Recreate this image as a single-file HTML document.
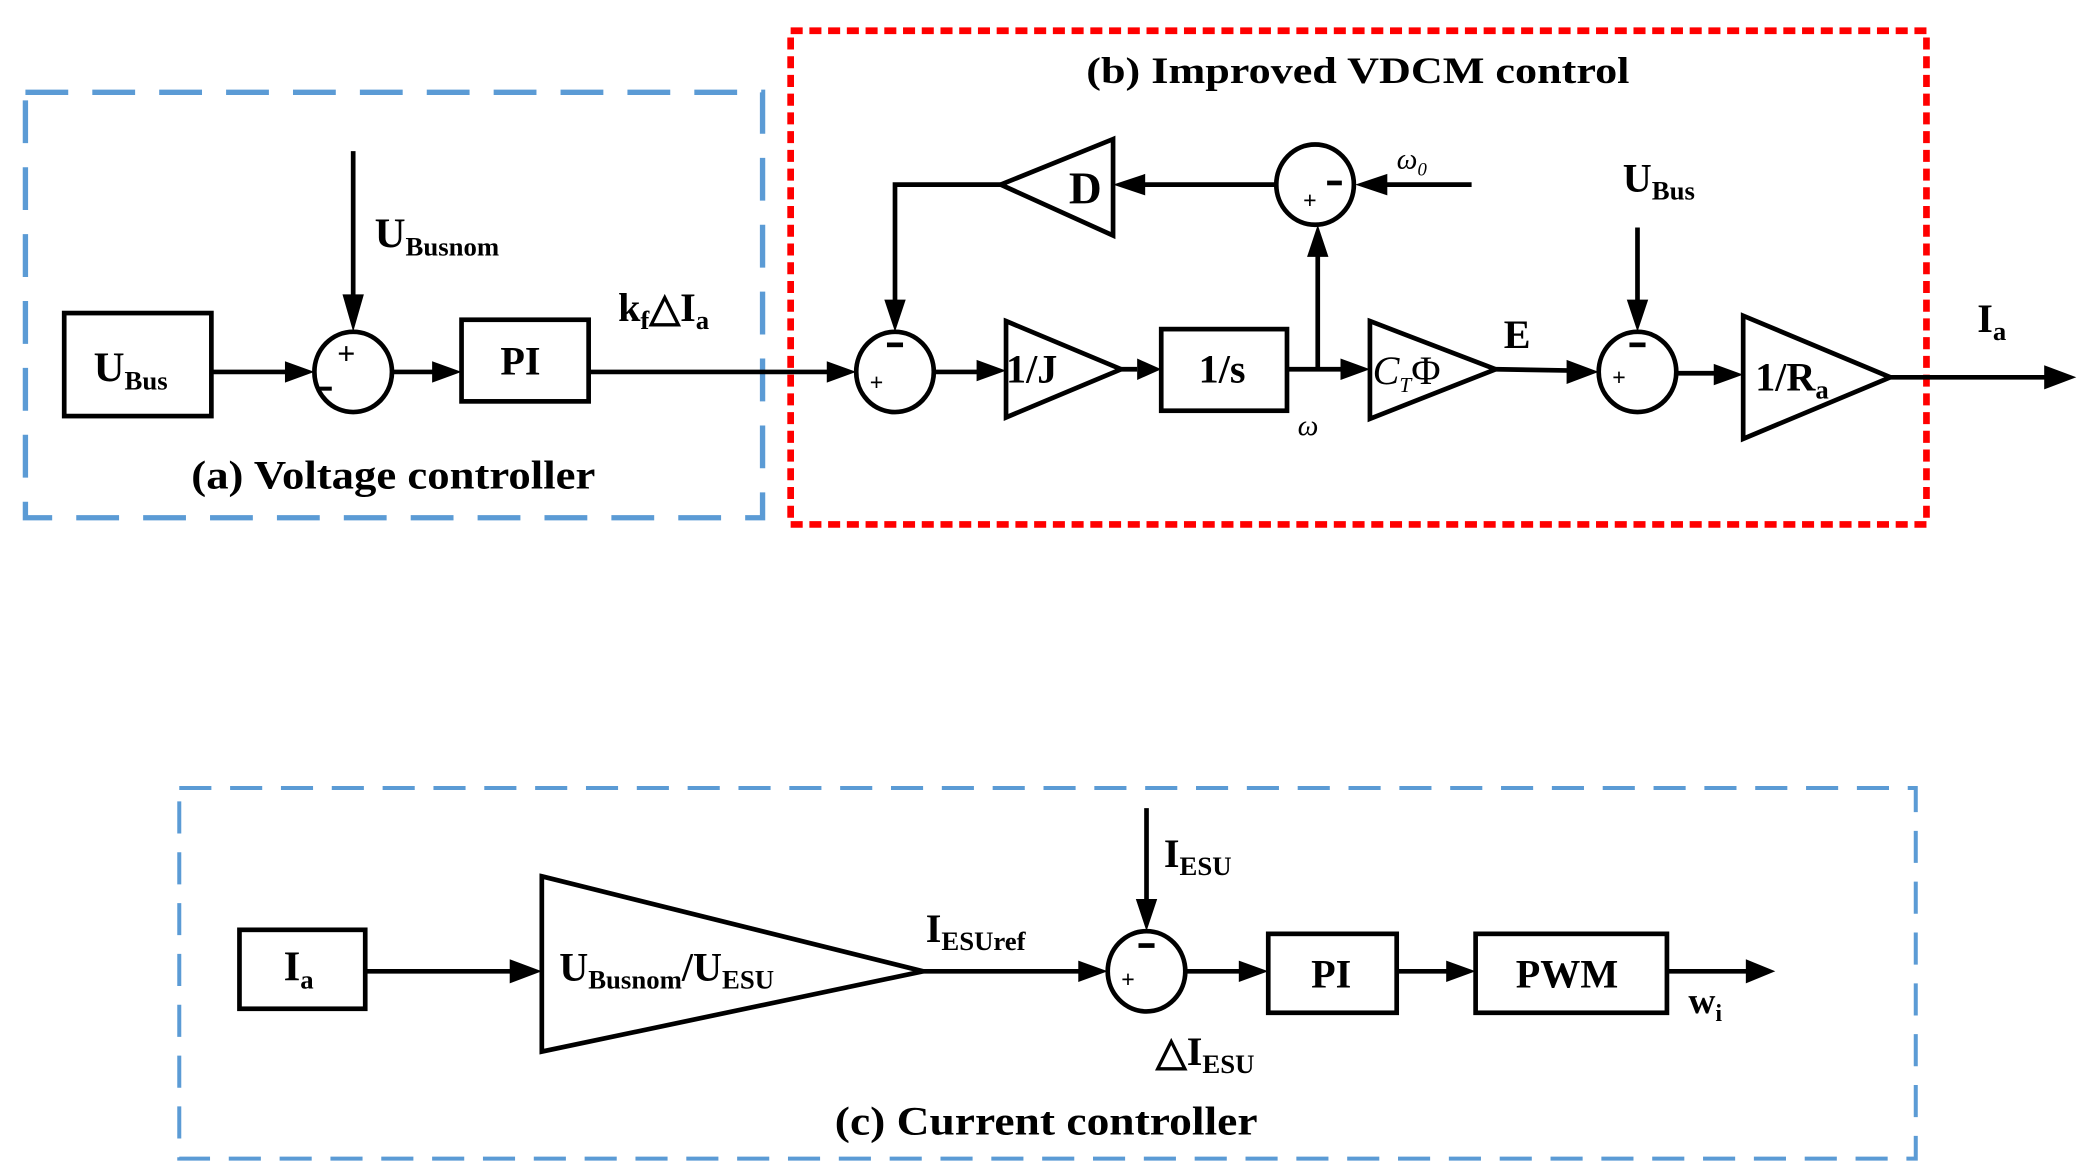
<!DOCTYPE html>
<html><head><meta charset="utf-8"><style>
html,body{margin:0;padding:0;background:#fff;}
svg{display:block;}
text{font-family:"Liberation Serif",serif;font-weight:bold;fill:#000;}
.it{font-style:italic;font-weight:normal;}
</style></head><body>
<svg width="2087" height="1176" viewBox="0 0 1560 879" preserveAspectRatio="none" xmlns="http://www.w3.org/2000/svg">
<g fill="none">
<rect x="19" y="69" width="551" height="318" stroke="#5b9bd5" stroke-width="4" stroke-dasharray="32,18"/>
<rect x="591" y="23" width="849" height="369" stroke="#ff0000" stroke-width="5" stroke-dasharray="9,5"/>
<rect x="134" y="589" width="1298" height="277" stroke="#5b9bd5" stroke-width="3" stroke-dasharray="24,14"/>
</g>
<g stroke="#000" stroke-width="3.5" fill="none">
<rect x="48" y="234" width="110" height="77"/>
<ellipse cx="264" cy="278" rx="29" ry="30"/>
<rect x="345" y="239" width="95" height="61"/>
<ellipse cx="669" cy="278" rx="29" ry="30"/>
<polygon points="752,240 838,276 752,312"/>
<rect x="868" y="246" width="94" height="61"/>
<polygon points="1024,240 1118,276 1024,313"/>
<ellipse cx="983" cy="138" rx="29" ry="30"/>
<polygon points="832,104 748,138 832,176"/>
<ellipse cx="1224" cy="278" rx="29" ry="30"/>
<polygon points="1303,236 1413,282 1303,328"/>
<rect x="179" y="695" width="94" height="59"/>
<polygon points="405,655 690,726 405,786"/>
<ellipse cx="857" cy="726" rx="29" ry="30"/>
<rect x="948" y="698" width="96" height="59"/>
<rect x="1103" y="698" width="143" height="59"/>
<line x1="264" y1="113" x2="264" y2="230"/>
<line x1="158" y1="278" x2="216" y2="278"/>
<line x1="293" y1="278" x2="326" y2="278"/>
<line x1="440" y1="278" x2="621" y2="278"/>
<line x1="698" y1="278" x2="733" y2="278"/>
<line x1="838" y1="276" x2="850" y2="276"/>
<line x1="962" y1="276" x2="1005" y2="276"/>
<line x1="985" y1="276" x2="985" y2="188"/>
<line x1="1100" y1="138" x2="1033" y2="138"/>
<line x1="954" y1="138" x2="852" y2="138"/>
<polyline points="748,138 669,138 669,228"/>
<line x1="1118" y1="276" x2="1175" y2="277"/>
<line x1="1224" y1="170" x2="1224" y2="229"/>
<line x1="1253" y1="279" x2="1284" y2="279"/>
<line x1="1413" y1="282" x2="1532" y2="282"/>
<line x1="273" y1="726" x2="385" y2="726"/>
<line x1="690" y1="726" x2="808" y2="726"/>
<line x1="857" y1="604" x2="857" y2="676"/>
<line x1="886" y1="726" x2="929" y2="726"/>
<line x1="1044" y1="726" x2="1084" y2="726"/>
<line x1="1246" y1="726" x2="1308" y2="726"/>
</g>
<g fill="#000">
<polygon points="264,248 256,220 272,220"/>
<polygon points="235,278 213,270 213,286"/>
<polygon points="345,278 323,270 323,286"/>
<polygon points="640,278 618,270 618,286"/>
<polygon points="752,277 730,269 730,285"/>
<polygon points="868,276 850,268 850,284"/>
<polygon points="1024,276 1002,268 1002,284"/>
<polygon points="985,168 977,192 993,192"/>
<polygon points="1013,138 1037,130 1037,146"/>
<polygon points="832,138 856,130 856,146"/>
<polygon points="669,248 661,224 677,224"/>
<polygon points="1195,278 1171,269 1171,287"/>
<polygon points="1224,248 1216,224 1232,224"/>
<polygon points="1303,280 1281,272 1281,288"/>
<polygon points="1552,282 1528,273 1528,291"/>
<polygon points="405,726 381,717 381,735"/>
<polygon points="828,726 806,718 806,734"/>
<polygon points="857,696 849,672 865,672"/>
<polygon points="948,726 926,718 926,734"/>
<polygon points="1103,726 1081,718 1081,734"/>
<polygon points="1327,726 1305,717 1305,735"/>
<rect x="238" y="289" width="10" height="3"/>
<rect x="663" y="256" width="12" height="3.5"/>
<rect x="992" y="135" width="11" height="3.5"/>
<rect x="1218" y="256" width="12" height="3.5"/>
<rect x="851" y="705" width="12" height="3.5"/>
</g>
<text x="252" y="272" font-size="24" font-weight="normal">+</text>
<text x="650" y="292" font-size="18" font-weight="normal">+</text>
<text x="974" y="156" font-size="18" font-weight="normal">+</text>
<text x="1205" y="288" font-size="18" font-weight="normal">+</text>
<text x="838" y="738" font-size="18" font-weight="normal">+</text>
<text x="70" y="285" font-size="32">U<tspan font-size="20" dy="6">Bus</tspan></text>
<text x="280" y="185" font-size="32">U<tspan font-size="20" dy="6">Busnom</tspan></text>
<text x="374" y="280" font-size="30">PI</text>
<text x="462" y="240" font-size="30">k<tspan font-size="20" dy="6">f</tspan><tspan dy="-6">△I</tspan><tspan font-size="20" dy="6">a</tspan></text>
<text x="143" y="365" font-size="30" textLength="302" lengthAdjust="spacingAndGlyphs">(a) Voltage  controller</text>
<text x="812" y="62" font-size="28" textLength="406" lengthAdjust="spacingAndGlyphs">(b)  Improved VDCM control</text>
<text x="752" y="286" font-size="30">1/J</text>
<text x="896" y="286" font-size="30">1/s</text>
<text x="970" y="325" font-size="22" class="it">ω</text>
<text x="1026" y="287" font-size="30" class="it">C<tspan font-size="16" dy="6">T</tspan><tspan dy="-6" font-style="normal">Φ</tspan></text>
<text x="799" y="152" font-size="34">D</text>
<text x="1044" y="126" font-size="22" class="it">ω<tspan font-size="14" dy="5">0</tspan></text>
<text x="1124" y="260" font-size="30">E</text>
<text x="1213" y="143" font-size="30">U<tspan font-size="20" dy="6">Bus</tspan></text>
<text x="1312" y="292" font-size="30">1/R<tspan font-size="20" dy="6">a</tspan></text>
<text x="1478" y="248" font-size="30">I<tspan font-size="20" dy="6">a</tspan></text>
<text x="212" y="733" font-size="32">I<tspan font-size="20" dy="6">a</tspan></text>
<text x="418" y="733" font-size="30">U<tspan font-size="20" dy="6">Busnom</tspan><tspan dy="-6">/U</tspan><tspan font-size="20" dy="6">ESU</tspan></text>
<text x="692" y="704" font-size="30">I<tspan font-size="20" dy="6">ESUref</tspan></text>
<text x="870" y="648" font-size="30">I<tspan font-size="20" dy="6">ESU</tspan></text>
<text x="864" y="796" font-size="30">△I<tspan font-size="20" dy="6">ESU</tspan></text>
<text x="980" y="738" font-size="30">PI</text>
<text x="1133" y="738" font-size="30">PWM</text>
<text x="1262" y="757" font-size="28">w<tspan font-size="18" dy="6">i</tspan></text>
<text x="624" y="848" font-size="30" textLength="316" lengthAdjust="spacingAndGlyphs">(c)  Current  controller</text>
</svg>
</body></html>
